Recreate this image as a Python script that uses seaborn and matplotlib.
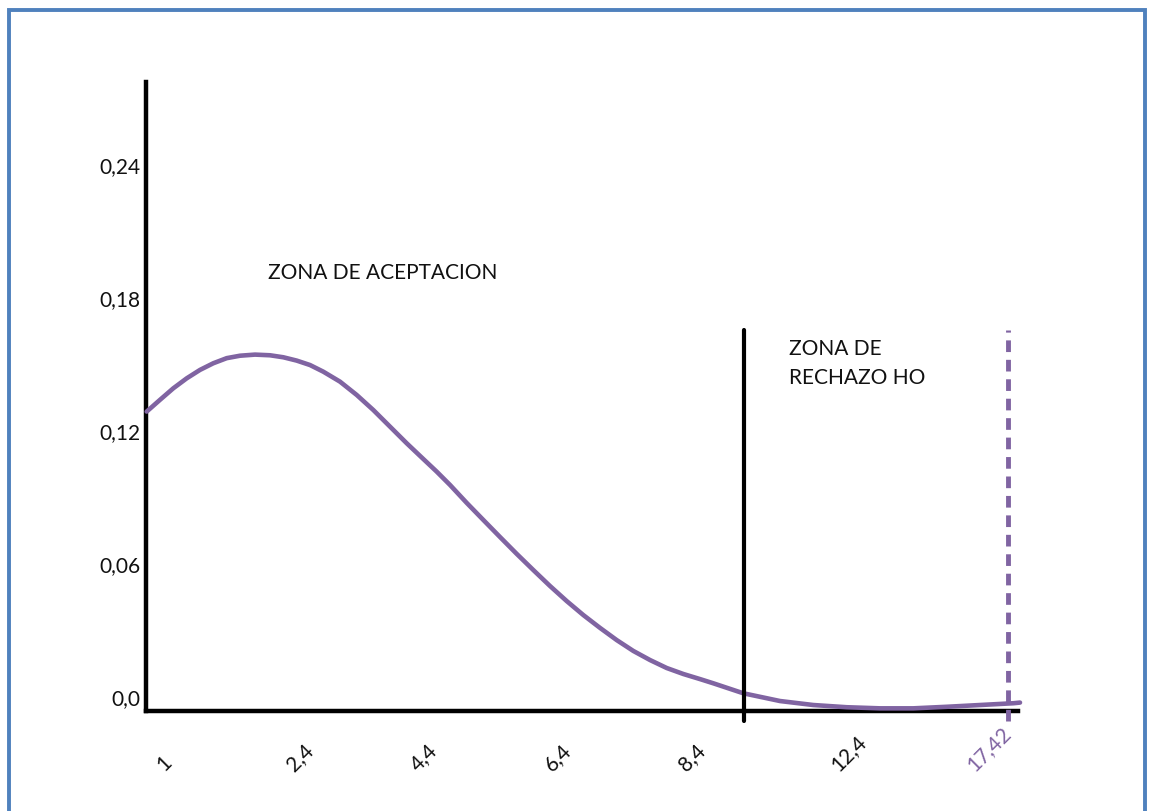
import numpy as np
import pandas as pd
import matplotlib
matplotlib.use("Agg")
import matplotlib.pyplot as plt
import seaborn as sns
from matplotlib.patches import Rectangle

# curve (x in axis units, y in density units)
curve_x = [0.007, 0.14, 0.273, 0.407, 0.54, 0.673, 0.807, 0.94, 1.09, 1.24,
           1.373, 1.507, 1.64, 1.773, 1.94, 2.107, 2.273, 2.44, 2.607, 2.773,
           2.907, 3.04, 3.207, 3.373, 3.54, 3.707, 3.873, 4.04, 4.207, 4.373,
           4.54, 4.707, 4.873, 5.04, 5.207, 5.373, 5.54, 5.673, 5.973, 6.34,
           6.673, 7.007, 7.34, 7.673, 8.007, 8.34, 8.673, 8.74]
curve_y = [0.1290, 0.1343, 0.1395, 0.1440, 0.1478, 0.1508, 0.1531, 0.1542,
           0.1547, 0.1544, 0.1535, 0.1520, 0.1500, 0.1470, 0.1425, 0.1365,
           0.1297, 0.1222, 0.1147, 0.1076, 0.1019, 0.0959, 0.0878, 0.0801,
           0.0724, 0.0648, 0.0575, 0.0503, 0.0435, 0.0372, 0.0314, 0.0259,
           0.0210, 0.0169, 0.0133, 0.0106, 0.0083, 0.0064, 0.0019, -0.0016,
           -0.0034, -0.0044, -0.0049, -0.0049, -0.0042, -0.0034, -0.0026, -0.0023]

xtick_pos = [0.21, 1.51, 2.75, 4.09, 5.43, 6.95, 8.31]
xtick_labels = ["1", "2,4", "4,4", "6,4", "8,4", "12,4", "17,42"]
yticks = [0.0, 0.06, 0.12, 0.18, 0.24]
ytick_labels = ["0,0", "0,06", "0,12", "0,18", "0,24"]

crit_x = 5.98      # limite zona de rechazo
stat_x = 8.62      # estadistico 17,42
line_top = 0.166
line_bottom = -0.0105

PURPLE = "#8064A2"
BLUE = "#4F81BD"

sns.set_style("white")
plt.rcParams['font.family'] = ['Lato', 'DejaVu Sans']

fig = plt.figure(figsize=(11.49, 8.11), dpi=100)
ax = fig.add_axes([146 / 1149, 1 - 711 / 811, (1018 - 146) / 1149, (711 - 82) / 811])

df = pd.DataFrame({"x": curve_x, "y": curve_y})
sns.lineplot(data=df, x="x", y="y", ax=ax, color=PURPLE, linewidth=3.3,
             clip_on=False, zorder=3)

ax.plot([crit_x, crit_x], [line_bottom, line_top], color="black", linewidth=3,
        clip_on=False, zorder=4)
ax.plot([stat_x, stat_x], [line_bottom, line_top], color=PURPLE, linewidth=3.5,
        linestyle=(0, (2.4, 1.6)), clip_on=False, zorder=4)

ax.set_xlim(0, 8.72)
ax.set_ylim(-0.0061, 0.2777)
ax.set_xlabel("")
ax.set_ylabel("")

ax.set_xticks(xtick_pos)
ax.set_xticklabels(xtick_labels, rotation=45, ha="left", va="bottom",
                   rotation_mode="anchor", fontsize=15, color="#111111")
ax.get_xticklabels()[-1].set_color(PURPLE)
ax.set_yticks(yticks)
ax.set_yticklabels(ytick_labels, fontsize=15, color="#111111")
ax.tick_params(axis="x", length=0, pad=46)
ax.tick_params(axis="y", length=0, pad=4)

for s in ["top", "right"]:
    ax.spines[s].set_visible(False)
for s in ["left", "bottom"]:
    ax.spines[s].set_color("black")
    ax.spines[s].set_linewidth(3.2)

ax.text(1.22, 0.1916, "ZONA DE ACEPTACION", fontsize=15, color="#111111",
        ha="left", va="center")
ax.text(6.43, 0.1617, "ZONA DE\nRECHAZO HO", fontsize=15, color="#111111",
        ha="left", va="top", linespacing=1.55)

# marco azul
fig.patches.append(Rectangle((9 / 1149, -0.05), (1145 - 9) / 1149, 1.05 - 10 / 811,
                             transform=fig.transFigure, fill=False,
                             edgecolor=BLUE, linewidth=2.8))

fig.savefig("out.png", dpi=100)
